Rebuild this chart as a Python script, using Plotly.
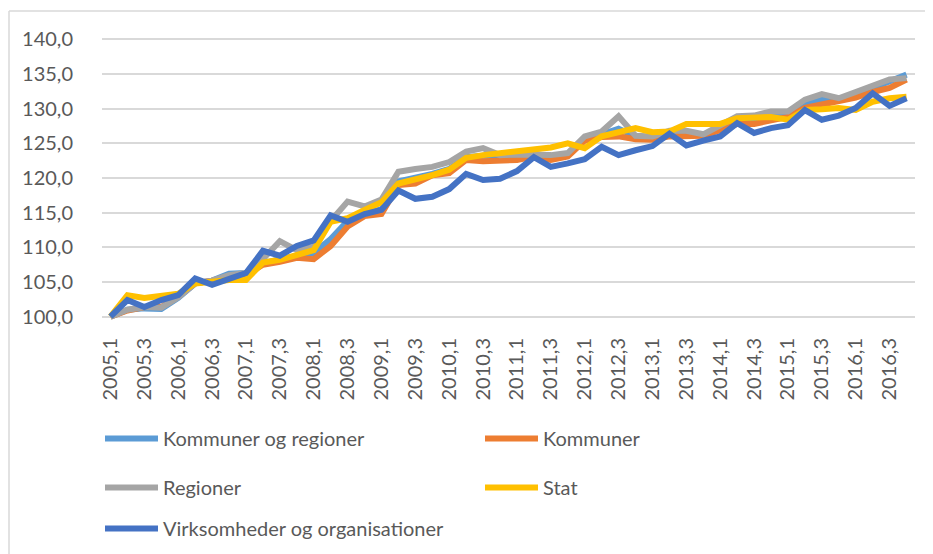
import plotly.graph_objects as go

years = list(range(2005, 2017))
quarters = [f"{y},{q}" for y in years for q in (1, 2, 3, 4)]
tick_labels = quarters[::2]

kommuner_og_regioner = [100.0, 101.0, 101.2, 101.1, 102.7, 104.8, 105.2, 106.2, 106.3, 107.7,
                        108.3, 108.8, 109.2, 111.2, 113.8, 114.8, 115.5, 119.5, 120.0, 120.6,
                        121.3, 123.0, 123.2, 123.2, 123.3, 123.5, 123.1, 123.4, 125.6, 126.3,
                        127.1, 126.0, 125.8, 126.3, 126.4, 126.2, 127.2, 128.3, 128.3, 128.9,
                        129.2, 130.8, 131.4, 131.3, 132.0, 133.0, 133.8, 134.9]
kommuner = [100.0, 100.9, 101.4, 101.4, 102.9, 104.8, 105.2, 105.8, 106.0, 107.5,
            107.9, 108.5, 108.3, 110.2, 113.0, 114.5, 114.8, 119.0, 119.2, 120.4,
            120.7, 122.6, 122.4, 122.4, 122.6, 123.1, 122.6, 123.1, 125.4, 125.9,
            126.0, 125.6, 125.5, 126.0, 126.1, 126.1, 126.9, 127.8, 127.8, 128.4,
            128.8, 130.1, 130.6, 131.0, 131.6, 132.4, 133.0, 134.2]
regioner = [100.0, 101.0, 101.4, 101.3, 102.8, 104.8, 105.2, 106.0, 106.3, 108.3,
            110.9, 109.6, 110.1, 113.8, 116.6, 115.9, 116.9, 120.9, 121.3, 121.6,
            122.3, 123.8, 124.3, 123.3, 123.4, 123.4, 123.3, 123.6, 126.0, 126.7,
            128.9, 126.1, 126.0, 126.8, 126.8, 126.3, 127.5, 128.9, 129.0, 129.6,
            129.6, 131.3, 132.1, 131.5, 132.4, 133.4, 134.2, 134.4]
stat = [100.0, 103.1, 102.7, 102.9, 103.3, 104.8, 105.1, 105.3, 105.3, 107.8,
        108.2, 108.8, 109.6, 113.7, 114.2, 115.4, 116.5, 119.2, 119.7, 120.4,
        121.2, 122.9, 123.3, 123.6, 123.8, 124.1, 124.4, 125.0, 124.3, 126.0,
        126.6, 127.2, 126.6, 126.7, 127.8, 127.9, 127.8, 128.6, 128.6, 128.8,
        128.4, 129.8, 129.9, 130.1, 129.8, 131.0, 131.5, 131.7]
virksomheder = [100.0, 102.4, 101.4, 102.4, 103.1, 105.5, 104.6, 105.5, 106.3, 109.5,
                108.8, 110.2, 111.0, 114.6, 113.7, 114.8, 115.4, 118.2, 117.0, 117.3,
                118.4, 120.6, 119.7, 119.9, 121.0, 123.0, 121.6, 122.1, 122.7, 124.5,
                123.3, 124.0, 124.6, 126.4, 124.7, 125.4, 126.0, 127.9, 126.5, 127.2,
                127.6, 129.8, 128.4, 129.0, 130.1, 132.2, 130.4, 131.5]

y_ticks = [100, 105, 110, 115, 120, 125, 130, 135, 140]

series = [
    ("Kommuner og regioner", kommuner_og_regioner, "#5B9BD5", "legend"),
    ("Kommuner", kommuner, "#ED7D31", "legend"),
    ("Regioner", regioner, "#A5A5A5", "legend2"),
    ("Stat", stat, "#FFC000", "legend2"),
    ("Virksomheder og organisationer", virksomheder, "#4472C4", "legend3"),
]

FONT = "Lato"
TXT = "#595959"

fig = go.Figure()
for name, vals, col, lg in series:
    fig.add_trace(go.Scatter(x=quarters, y=vals, name=name, mode="lines",
                             line=dict(color=col, width=6), legend=lg))

# page offset of the figure inside the html body (default body margin)
OFF = 8
W, H = 933, 554
ml, mt = 94, 29
pw, ph = 813, 284
mr = W - ml - pw
mb = H - mt - ph

def px_x(p):  # page pixel -> paper x
    return (p - OFF - ml) / pw

def px_y(p):  # page pixel -> paper y
    return (mt + ph - (p - OFF)) / ph

leg_common = dict(orientation="h", xanchor="left", yanchor="top",
                  font=dict(family=FONT, size=20, color=TXT),
                  bgcolor="rgba(0,0,0,0)", itemwidth=53,
                  entrywidth=312, traceorder="normal")

fig.update_layout(
    width=W, height=H,
    margin=dict(l=ml, r=mr, t=mt, b=mb),
    paper_bgcolor="white", plot_bgcolor="white",
    separators=", ",
    font=dict(family=FONT, color=TXT),
    xaxis=dict(type="category", range=[-0.5, 47.5], tickmode="array",
               tickvals=tick_labels, ticktext=tick_labels, tickangle=-90,
               showgrid=False, showline=False, zeroline=False, ticks="",
               ticklabelstandoff=12,
               tickfont=dict(family=FONT, size=20, color=TXT)),
    yaxis=dict(range=[99.38, 140.33], tickmode="array", tickvals=y_ticks,
               tickformat=".1f", showgrid=True, gridcolor="#D9D9D9", gridwidth=1.5,
               zeroline=False, showline=False, ticks="", ticklabelstandoff=28,
               tickfont=dict(family=FONT, size=20, color=TXT)),
    legend=dict(leg_common, x=px_x(100), y=px_y(419)),
    legend2=dict(leg_common, x=px_x(100), y=px_y(468)),
    legend3=dict(leg_common, x=px_x(100), y=px_y(509)),
    showlegend=True,
)

# chart-area border (top and left edges visible in the reference)
fig.add_shape(type="line", xref="paper", yref="paper",
              x0=px_x(9), x1=px_x(W + 20), y0=px_y(11), y1=px_y(11),
              line=dict(color="#D9D9D9", width=1.5))
fig.add_shape(type="line", xref="paper", yref="paper",
              x0=px_x(9), x1=px_x(9), y0=px_y(11), y1=px_y(H + 20),
              line=dict(color="#D9D9D9", width=1.5))

fig.write_html("out.html")
